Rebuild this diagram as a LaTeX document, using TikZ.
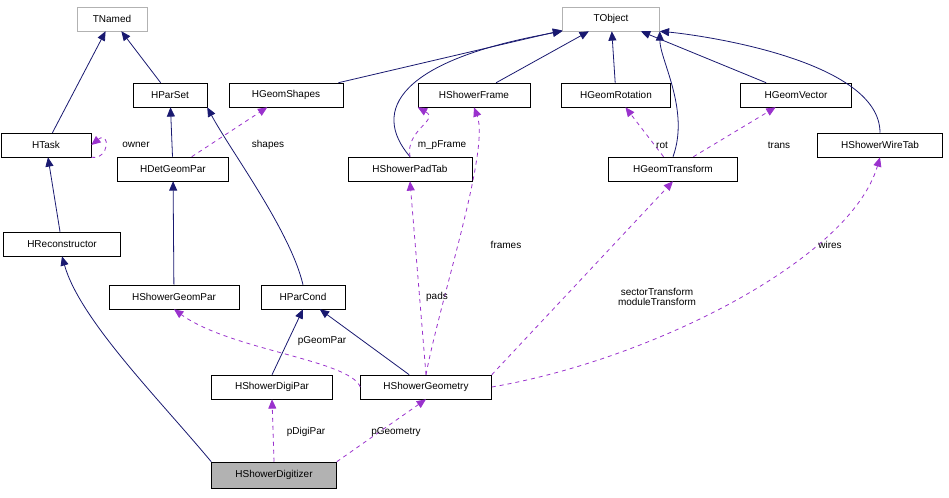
\documentclass[tikz,border=0pt]{standalone}
\usepackage{fontspec}
\setmainfont{Liberation Sans}
\usetikzlibrary{arrows.meta}
\definecolor{edgeblue}{RGB}{25,25,112}
\definecolor{edgepurple}{RGB}{154,50,205}
\tikzset{
  cls/.style={draw,fill=white,inner sep=0pt,minimum height=18pt,font=\fontsize{7.5}{8}\selectfont},
  ext/.style={cls,draw=gray!60},
  inh/.style={edgeblue,semithick,-{Triangle[width=6pt,length=7pt]}},
  use/.style={edgepurple,semithick,dashed,-{Triangle[width=6pt,length=7pt]}},
  lbl/.style={font=\fontsize{7.5}{8}\selectfont,inner sep=1pt,align=center}
}
\begin{document}
\begin{tikzpicture}[x=0.75pt,y=-0.75pt]
		\useasboundingbox (0,0) rectangle (949,497);
		\node[ext,minimum width=52.5pt] (tnamed) at (112,19) {TNamed};
		\node[ext,minimum width=72.75pt] (tobject) at (611,19) {TObject};
		\node[cls,minimum width=55.5pt] (hparset) at (170,95) {HParSet};
		\node[cls,minimum width=85.5pt] (hgeomshapes) at (286,95) {HGeomShapes};
		\node[cls,minimum width=84pt] (hshowerframe) at (474,95) {HShowerFrame};
		\node[cls,minimum width=81.75pt] (hgeomrotation) at (616,95) {HGeomRotation};
		\node[cls,minimum width=83.25pt] (hgeomvector) at (796,95) {HGeomVector};
		\node[cls,minimum width=67.5pt] (htask) at (46,145) {HTask};
		\node[cls,minimum width=93.75pt] (hshowerwiretab) at (880,145) {HShowerWireTab};
		\node[cls,minimum width=83.25pt] (hdetgeompar) at (173,169) {HDetGeomPar};
		\node[cls,minimum width=93pt] (hshowerpadtab) at (410,169) {HShowerPadTab};
		\node[cls,minimum width=96.75pt] (hgeomtransform) at (673,169) {HGeomTransform};
		\node[cls,minimum width=87.75pt] (hreconstructor) at (62,244) {HReconstructor};
		\node[cls,minimum width=97.5pt] (hshowergeompar) at (174,297) {HShowerGeomPar};
		\node[cls,minimum width=63pt] (hparcond) at (303,297) {HParCond};
		\node[cls,minimum width=90.75pt] (hshowerdigipar) at (272,387) {HShowerDigiPar};
		\node[cls,minimum width=98.25pt] (hshowergeometry) at (426,387) {HShowerGeometry};
		\node[cls,fill=gray!60,minimum width=93.75pt,minimum height=19.5pt] (hshowerdigitizer) at (274,475) {HShowerDigitizer};
		% inheritance
		\draw[inh] (htask) -- (tnamed);
		\draw[inh] (hparset) -- (tnamed);
		\draw[inh] (hdetgeompar) -- (hparset);
		\draw[inh] (hparcond.north) .. controls (290,230) and (230,150) .. (hparset.south east);
		\draw[inh] (hgeomshapes) -- (tobject);
		\draw[inh] (hshowerpadtab.north) .. controls (370,110) and (400,60) .. (tobject.south west);
		\draw[inh] (hshowerframe) -- (tobject);
		\draw[inh] (hgeomrotation) -- (tobject);
		\draw[inh] (hgeomtransform.north) .. controls (690,110) and (660,60) .. (tobject.south east);
		\draw[inh] (hgeomvector) -- (tobject);
		\draw[inh] (hshowerwiretab.north) .. controls (880,60) and (700,35) .. (tobject.south east);
		\draw[inh] (hreconstructor) -- (htask);
		\draw[inh] (hshowergeompar) -- (hdetgeompar);
		\draw[inh] (hshowerdigipar.north) -- (hparcond.south);
		\draw[inh] (hshowergeometry) -- (hparcond);
		\draw[inh] (hshowerdigitizer.north west) .. controls (160,400) and (80,320) .. (hreconstructor.south);
		% usage
		\draw[use] (htask.south east) .. controls (110,160) and (110,130) .. (htask.east);
		\draw[use] (hdetgeompar) -- (hgeomshapes);
		\draw[use] (hshowerpadtab.north) .. controls (405,130) and (440,120) .. (hshowerframe.south west);
		\draw[use] (hshowergeometry.north) .. controls (440,300) and (490,150) .. (hshowerframe.south);
		\draw[use] (hshowergeometry.north) -- (hshowerpadtab.south);
		\draw[use] (hgeomtransform) -- (hgeomrotation);
		\draw[use] (hgeomtransform) -- (hgeomvector);
		\draw[use] (hshowergeometry.north east) -- (hgeomtransform.south);
		\draw[use] (hshowergeometry.east) .. controls (650,360) and (850,260) .. (hshowerwiretab.south);
		\draw[use] (hshowergeometry.west) .. controls (350,360) and (230,350) .. (hshowergeompar.south);
		\draw[use] (hshowerdigitizer.north) -- (hshowerdigipar.south);
		\draw[use] (hshowerdigitizer.north east) -- (hshowergeometry.south);
		% labels
		\node[lbl] (lowner) at (136,145) {owner};
		\node[lbl] (lshapes) at (268,145) {shapes};
		\node[lbl] (lframe) at (442,145) {m\_pFrame};
		\node[lbl] (lframes) at (506,245) {frames};
		\node[lbl] (lpads) at (437,297) {pads};
		\node[lbl] (lrot) at (662,145) {rot};
		\node[lbl] (ltrans) at (779,145) {trans};
		\node[lbl] (ltransform) at (657,297) {sectorTransform\\moduleTransform};
		\node[lbl] (lwires) at (830,245) {wires};
		\node[lbl] (lgeompar) at (322,341) {pGeomPar};
		\node[lbl] (ldigipar) at (306,432) {pDigiPar};
		\node[lbl] (lgeometry) at (396,432) {pGeometry};
\end{tikzpicture}
\end{document}
